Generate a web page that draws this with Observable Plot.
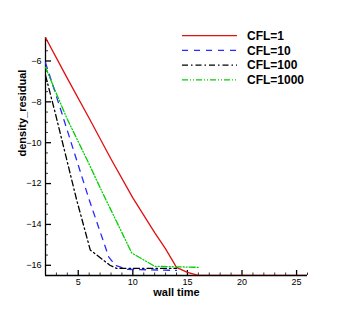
<!DOCTYPE html>
<html>
<head>
<meta charset="utf-8">
<script src="https://cdn.jsdelivr.net/npm/d3@7"></script>
<script src="https://cdn.jsdelivr.net/npm/@observablehq/plot@0.6"></script>
<style>
  html, body { margin: 0; padding: 0; background: #fff; }
  #chart { width: 349px; height: 310px; }
  svg { font-family: "Liberation Sans", Arial, sans-serif; }
</style>
</head>
<body>
<div id="chart"></div>
<script>
// Series names
const seriesNames = ["CFL=1", "CFL=10", "CFL=100", "CFL=1000"];

// wall time / density_residual
const cfl1Time = [2, 4, 6, 8, 10, 12, 13, 14, 15, 16, 26];
const cfl1Res  = [-4.85, -6.85, -8.8, -10.8, -12.7, -14.4, -15.2, -16.1, -16.35, -16.5, -16.5];

const cfl10Time = [2, 3.5, 6, 7.8, 8.4, 9.4, 14];
const cfl10Res  = [-6.08, -8.56, -12.79, -15.6, -16.0, -16.2, -16.25];

const cfl100Time = [2, 2.9, 4.85, 6.1, 7.9, 8.5, 14];
const cfl100Res  = [-6.7, -8.56, -12.79, -15.25, -16.0, -16.15, -16.15];

const cfl1000Time = [2, 3, 4, 5, 6, 7, 8, 9, 9.9, 12, 16];
const cfl1000Res  = [-6.3, -7.6, -8.85, -9.95, -11.05, -12.2, -13.3, -14.4, -15.4, -16.05, -16.1];

// Axis ticks
const xTicks = [5, 10, 15, 20, 25];
const xMinor = [3, 4, 6, 7, 8, 9, 11, 12, 13, 14, 16, 17, 18, 19, 21, 22, 23, 24, 26];
const yTicks = [-16, -14, -12, -10, -8, -6];
const yMinor = [-16.5, -15.5, -15, -14.5, -13.5, -13, -12.5, -11.5, -11, -10.5, -9.5, -9, -8.5, -7.5, -7, -6.5, -5.5, -5];

const xDomain = [2, 26];
const yDomain = [-16.5, -4.85];

const colors = ["#e01010", "#2a2aff", "#000000", "#00d000"];
const dashes = [null, "6,6", "6,3,1.5,3", "6,2,1,2,1,2"];

const toRows = (t, r) => t.map((x, i) => ({x, y: r[i]}));
const series = [
  toRows(cfl1Time, cfl1Res),
  toRows(cfl10Time, cfl10Res),
  toRows(cfl100Time, cfl100Res),
  toRows(cfl1000Time, cfl1000Res)
];

const W = 349, H = 310;
const mL = 45, mR = 42, mT = 37, mB = 35;
const innerW = W - mL - mR, innerH = H - mT - mB;

const lineMarks = series.map((rows, i) => Plot.line(rows, {
  x: "x", y: "y", stroke: colors[i], strokeWidth: 1.3,
  strokeDasharray: dashes[i] || undefined, clip: true
}));

const plot = Plot.plot({
  width: W, height: H,
  marginLeft: mL, marginRight: mR, marginTop: mT, marginBottom: mB,
  style: {fontFamily: "'Liberation Sans', Arial, sans-serif", background: "#fff"},
  x: {domain: xDomain},
  y: {domain: yDomain},
  marks: [
    Plot.axisX(xTicks, {tickSize: 0, tickPadding: 3, fontSize: 9, label: null, fill: "#000"}),
    Plot.axisY(yTicks, {tickSize: 0, tickPadding: 4, fontSize: 9, label: null, fill: "#000"}),
    // inward ticks
    Plot.tickX(xTicks, {x: d => d, insetTop: innerH - 5, stroke: "#000", strokeWidth: 1.3}),
    Plot.tickX(xMinor, {x: d => d, insetTop: innerH - 2.5, stroke: "#000", strokeWidth: 0.8}),
    Plot.tickY(yTicks, {y: d => d, insetRight: innerW - 6, stroke: "#000", strokeWidth: 1.3}),
    Plot.tickY(yMinor, {y: d => d, insetRight: innerW - 3, stroke: "#000", strokeWidth: 0.8}),
    Plot.ruleX([xDomain[0]], {stroke: "#000", strokeWidth: 1.3}),
    Plot.ruleY([yDomain[0]], {stroke: "#000", strokeWidth: 1.3}),
    ...lineMarks,
    Plot.text(["wall time"], {frameAnchor: "bottom", dy: 17, lineAnchor: "middle", fontSize: 11, fontWeight: "bold", fill: "#000"}),
    Plot.text(["density_residual"], {frameAnchor: "left", dx: -23.5, rotate: -90, lineAnchor: "middle", fontSize: 11, fontWeight: "bold", fill: "#000"})
  ]
});

// Legend drawn into the same SVG
const svg = d3.select(plot);
const lg = svg.append("g").attr("class", "legend").attr("text-anchor", "start");
seriesNames.forEach((name, i) => {
  const yy = 35.7 + i * 14.7;
  lg.append("line")
    .attr("x1", 182).attr("x2", 237).attr("y1", yy).attr("y2", yy)
    .attr("stroke", colors[i]).attr("stroke-width", 1.3)
    .attr("stroke-dasharray", dashes[i]);
  lg.append("text")
    .attr("x", 247).attr("y", yy).attr("dy", "0.35em")
    .attr("text-anchor", "start")
    .attr("font-size", 12).attr("font-weight", "bold").attr("fill", "#000")
    .text(name);
});

document.getElementById("chart").appendChild(plot);
</script>
</body>
</html>
